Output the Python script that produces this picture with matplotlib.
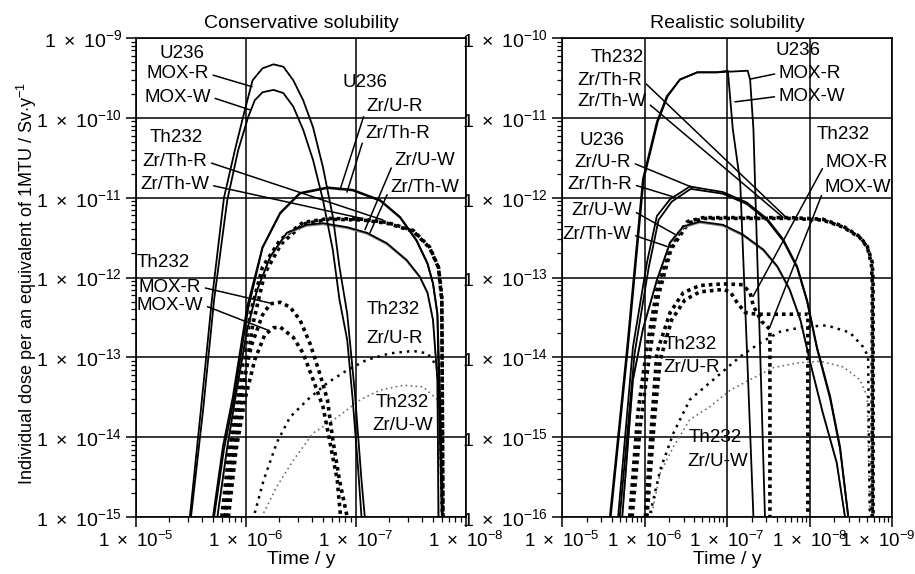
import numpy as np
import matplotlib
matplotlib.use("Agg")
import matplotlib.pyplot as plt
from matplotlib.ticker import LogLocator, FuncFormatter, NullFormatter, FixedLocator
from matplotlib.transforms import ScaledTranslation

plt.rcParams['font.family'] = ['Liberation Sans', 'DejaVu Sans']
plt.rcParams['mathtext.fontset'] = 'custom'
plt.rcParams['mathtext.rm'] = 'Liberation Sans'
plt.rcParams['mathtext.it'] = 'Liberation Sans:italic'
plt.rcParams['mathtext.bf'] = 'Liberation Sans:bold'
plt.rcParams['font.size'] = 13.5

# all values are log10(time / y) and log10(dose / Sv y-1)

# ---- conservative solubility ----
cons_u_mox_r_t = [5.49, 5.59, 5.69, 5.80, 5.90, 5.99, 6.06, 6.15, 6.25, 6.34, 6.43, 6.52, 6.61, 6.70, 6.79, 6.85, 6.92, 6.99, 7.05, 7.08]
cons_u_mox_r_d = [-15.0, -13.66, -12.28, -11.0, -10.40, -9.90, -9.53, -9.38, -9.33, -9.36, -9.53, -9.78, -10.12, -10.62, -11.24, -11.87, -12.45, -13.45, -14.54, -15.0]
cons_u_mox_w_t = [5.50, 5.61, 5.71, 5.83, 5.93, 6.02, 6.08, 6.15, 6.25, 6.34, 6.43, 6.52, 6.61, 6.70, 6.79, 6.85, 6.92, 6.97, 7.02, 7.05]
cons_u_mox_w_d = [-15.0, -13.66, -12.28, -11.03, -10.40, -9.99, -9.78, -9.68, -9.65, -9.69, -9.86, -10.15, -10.53, -11.03, -11.66, -12.28, -12.78, -13.53, -14.41, -15.0]

cons_u_zru_r_t = [5.70, 5.79, 5.88, 6.01, 6.15, 6.31, 6.49, 6.74, 6.97, 7.22, 7.40, 7.55, 7.65, 7.70, 7.74, 7.75, 7.78]
cons_u_zru_r_d = [-15.0, -14.12, -13.50, -12.37, -11.62, -11.19, -10.94, -10.87, -10.90, -11.03, -11.24, -11.53, -11.82, -12.07, -12.45, -13.28, -15.0]
cons_u_zrth_r_t = [5.71, 5.80, 5.89, 6.02, 6.15, 6.31, 6.49, 6.74, 6.97, 7.22, 7.40, 7.55, 7.65, 7.70, 7.74, 7.76, 7.79]
cons_u_zrth_r_d = [-15.0, -14.15, -13.52, -12.39, -11.63, -11.20, -10.95, -10.88, -10.91, -11.04, -11.25, -11.54, -11.83, -12.08, -12.46, -13.29, -15.0]

cons_u_zru_w_t = [5.74, 5.83, 5.92, 6.01, 6.10, 6.22, 6.37, 6.55, 6.70, 6.92, 7.10, 7.28, 7.46, 7.58, 7.65, 7.70, 7.74, 7.75]
cons_u_zru_w_d = [-15.0, -14.12, -13.37, -12.66, -12.16, -11.74, -11.44, -11.34, -11.32, -11.37, -11.44, -11.57, -11.78, -11.99, -12.19, -12.53, -13.28, -15.0]
cons_u_zrth_w_d = [-15.0, -14.13, -13.38, -12.67, -12.17, -11.755, -11.455, -11.355, -11.335, -11.385, -11.455, -11.585, -11.795, -12.0, -12.2, -12.54, -13.29, -15.0]

cons_th_zrth_r_t = [5.78, 5.85, 5.95, 6.04, 6.15, 6.31, 6.52, 6.76, 7.06, 7.28, 7.52, 7.67, 7.75, 7.78, 7.79]
cons_th_zrth_r_d = [-15.0, -14.12, -13.28, -12.45, -11.87, -11.53, -11.31, -11.26, -11.27, -11.31, -11.41, -11.62, -11.87, -12.24, -15.0]
cons_th_zrth_w_t = [5.81, 5.88, 5.97, 6.06, 6.17, 6.32, 6.52, 6.76, 7.06, 7.28, 7.52, 7.67, 7.75, 7.78, 7.79]
cons_th_zrth_w_d = [-15.0, -14.30, -13.45, -12.60, -11.95, -11.58, -11.33, -11.27, -11.28, -11.32, -11.42, -11.63, -11.88, -12.30, -15.0]

cons_th_mox_r_t = [5.81, 5.88, 5.96, 6.05, 6.15, 6.22, 6.31, 6.40, 6.49, 6.58, 6.67, 6.74, 6.79, 6.85, 6.92]
cons_th_mox_r_d = [-15.0, -14.04, -13.41, -12.85, -12.47, -12.33, -12.31, -12.37, -12.53, -12.82, -13.20, -13.53, -14.04, -14.54, -15.0]
cons_th_mox_w_t = [5.84, 5.91, 5.99, 6.08, 6.17, 6.25, 6.31, 6.43, 6.52, 6.61, 6.70, 6.76, 6.83, 6.86]
cons_th_mox_w_d = [-15.0, -14.16, -13.53, -13.03, -12.72, -12.63, -12.62, -12.75, -12.95, -13.28, -13.62, -14.04, -14.54, -15.0]

cons_th_zru_r_t = [6.08, 6.16, 6.28, 6.40, 6.56, 6.74, 6.92, 7.10, 7.31, 7.52, 7.65, 7.74, 7.76, 7.78]
cons_th_zru_r_d = [-14.95, -14.54, -14.07, -13.75, -13.53, -13.32, -13.16, -13.03, -12.95, -12.92, -12.95, -13.12, -13.50, -15.0]
cons_th_zru_w_t = [6.16, 6.28, 6.43, 6.61, 6.83, 7.04, 7.22, 7.43, 7.61, 7.74, 7.76, 7.78]
cons_th_zru_w_d = [-14.95, -14.62, -14.29, -13.95, -13.75, -13.53, -13.41, -13.35, -13.37, -13.53, -13.79, -14.95]

# ---- realistic solubility ----
real_u_mox_r_t = [5.58, 5.79, 5.98, 6.07, 6.15, 6.27, 6.43, 6.64, 6.88, 7.25, 7.28, 7.32, 7.34, 7.40, 7.46]
real_u_mox_r_d = [-16.0, -13.87, -11.77, -11.39, -11.05, -10.73, -10.52, -10.43, -10.43, -10.41, -10.52, -11.14, -11.83, -13.87, -16.0]
real_u_mox_w_t = [5.59, 5.80, 5.99, 6.08, 6.16, 6.28, 6.43, 6.64, 6.88, 7.01, 7.07, 7.16, 7.24, 7.32]
real_u_mox_w_d = [-16.0, -13.87, -11.77, -11.39, -11.05, -10.73, -10.52, -10.43, -10.43, -10.41, -11.14, -11.81, -13.87, -16.0]

real_u_zru_r_t = [5.68, 5.86, 6.03, 6.15, 6.31, 6.55, 6.95, 7.24, 7.49, 7.68, 7.85, 7.97, 8.09, 8.25, 8.37, 8.47]
real_u_zru_r_d = [-16.0, -13.87, -12.81, -12.23, -12.02, -11.86, -11.93, -12.06, -12.27, -12.52, -12.86, -13.28, -13.87, -14.49, -15.12, -16.0]
real_u_zrth_r_t = [5.70, 5.88, 6.05, 6.17, 6.33, 6.56, 6.95, 7.24, 7.49, 7.68, 7.85, 7.97, 8.09, 8.25, 8.37, 8.47]
real_u_zrth_r_d = [-16.0, -13.95, -12.88, -12.28, -12.05, -11.89, -11.95, -12.08, -12.29, -12.54, -12.88, -13.30, -13.89, -14.52, -15.15, -16.0]

real_u_zru_w_t = [5.73, 5.86, 5.98, 6.15, 6.31, 6.47, 6.67, 6.95, 7.19, 7.44, 7.61, 7.76, 7.89, 8.01, 8.16, 8.33, 8.43]
real_u_zru_w_d = [-16.0, -14.28, -13.65, -13.03, -12.56, -12.36, -12.30, -12.34, -12.46, -12.65, -12.86, -13.15, -13.53, -14.07, -14.69, -15.32, -16.0]
real_u_zrth_w_d = [-16.0, -14.29, -13.66, -13.04, -12.575, -12.375, -12.315, -12.355, -12.475, -12.665, -12.875, -13.165, -13.545, -14.08, -14.70, -15.33, -16.0]

real_th_zrth_r_t = [5.82, 5.92, 6.03, 6.15, 6.31, 6.52, 6.71, 7.76, 8.16, 8.41, 8.61, 8.70, 8.76, 8.77, 8.77]
real_th_zrth_r_d = [-16.0, -14.69, -13.87, -13.15, -12.61, -12.30, -12.25, -12.25, -12.27, -12.36, -12.49, -12.61, -12.81, -13.03, -16.0]
real_th_zrth_w_t = [5.85, 5.95, 6.06, 6.17, 6.32, 6.53, 6.71, 7.76, 8.16, 8.41, 8.61, 8.70, 8.75, 8.76, 8.76]
real_th_zrth_w_d = [-16.0, -14.85, -13.98, -13.22, -12.65, -12.32, -12.26, -12.26, -12.28, -12.37, -12.50, -12.62, -12.83, -13.06, -16.0]

real_th_mox_r_t = [6.01, 6.09, 6.15, 6.31, 6.47, 6.67, 6.95, 7.19, 7.28, 7.32, 7.42, 7.52, 7.52]
real_th_mox_r_d = [-16.0, -14.78, -13.94, -13.44, -13.19, -13.10, -13.08, -13.09, -13.19, -13.36, -13.55, -13.65, -16.0]
real_th_mox_w_t = [6.03, 6.12, 6.19, 6.33, 6.49, 6.67, 6.95, 7.04, 7.12, 7.22, 7.36, 7.98, 7.98]
real_th_mox_w_d = [-16.0, -14.78, -14.03, -13.53, -13.28, -13.18, -13.15, -13.18, -13.31, -13.44, -13.46, -13.46, -16.0]

real_th_zru_r_t = [6.07, 6.19, 6.35, 6.55, 6.88, 7.16, 7.40, 7.64, 7.92, 8.21, 8.49, 8.65, 8.71, 8.73]
real_th_zru_r_d = [-15.95, -15.41, -14.95, -14.53, -14.24, -13.99, -13.82, -13.68, -13.62, -13.60, -13.69, -13.87, -13.99, -16.0]
real_th_zru_w_t = [6.09, 6.19, 6.35, 6.55, 6.79, 7.04, 7.28, 7.56, 7.85, 8.13, 8.41, 8.61, 8.70, 8.73]
real_th_zru_w_d = [-15.95, -15.45, -15.12, -14.78, -14.62, -14.41, -14.28, -14.13, -14.07, -14.05, -14.12, -14.28, -14.49, -15.95]

# decades shown on each axis
cons_x_decades = [5, 6, 7, 8]
cons_y_decades = [-15, -14, -13, -12, -11, -10, -9]
real_x_decades = [5, 6, 7, 8, 9]
real_y_decades = [-16, -15, -14, -13, -12, -11, -10]

# labels: text, x, y (log10), leader target (log10) or None
cons_labels = [
    ("U236", 5.42, -9.19, None),
    ("MOX-R", 5.38, -9.45, (6.055, -9.61)),
    ("MOX-W", 5.38, -9.74, (6.036, -9.90)),
    ("U236", 7.08, -9.56, None),
    ("Zr/U-R", 7.355, -9.86, (6.855, -10.90)),
    ("Zr/Th-R", 7.38, -10.19, (6.918, -10.93)),
    ("Zr/U-W", 7.627, -10.53, (7.082, -11.40)),
    ("Zr/Th-W", 7.627, -10.87, (7.127, -11.44)),
    ("Th232", 5.37, -10.25, None),
    ("Zr/Th-R", 5.355, -10.55, (7.245, -11.28)),
    ("Zr/Th-W", 5.355, -10.84, (7.036, -11.255)),
    ("Th232", 5.245, -11.81, None),
    ("MOX-R", 5.31, -12.12, (6.218, -12.32)),
    ("MOX-W", 5.31, -12.345, (6.20, -12.66)),
    ("Th232", 7.336, -12.395, None),
    ("Zr/U-R", 7.355, -12.76, None),
    ("Th232", 7.418, -13.56, None),
    ("Zr/U-W", 7.427, -13.85, None),
]
real_labels = [
    ("Th232", 5.667, -10.24, None),
    ("Zr/Th-R", 5.582, -10.53, (7.703, -12.234)),
    ("Zr/Th-W", 5.606, -10.80, (7.679, -12.247)),
    ("U236", 7.861, -10.16, None),
    ("MOX-R", 8.006, -10.44, (7.279, -10.515)),
    ("MOX-W", 8.03, -10.73, (7.097, -10.80)),
    ("U236", 5.485, -11.29, None),
    ("Zr/U-R", 5.497, -11.556, (6.576, -11.87)),
    ("Zr/Th-R", 5.461, -11.833, (6.37, -11.996)),
    ("Zr/U-W", 5.485, -12.159, (6.37, -12.46)),
    ("Zr/Th-W", 5.424, -12.46, (6.273, -12.611)),
    ("Th232", 8.406, -11.205, None),
    ("MOX-R", 8.576, -11.556, (7.315, -13.238)),
    ("MOX-W", 8.588, -11.87, (7.521, -13.615)),
    ("Th232", 6.552, -13.84, None),
    ("Zr/U-R", 6.576, -14.13, None),
    ("Th232", 6.855, -15.0, None),
    ("Zr/U-W", 6.891, -15.31, None),
]

solid = dict(color='black', lw=1.3, ls='-')
grey = dict(color='#8c8c8c', lw=1.1, ls='-')
thick_dot = dict(color='black', lw=2.6, ls=(0, (1, 1.1)))
mid_dot = dict(color='black', lw=1.8, ls=(0, (1, 2)))
light_dot = dict(color='#6e6e6e', lw=1.2, ls=(0, (1, 2)))

cons_series = [
    (cons_th_zru_w_t, cons_th_zru_w_d, light_dot),
    (cons_th_zru_r_t, cons_th_zru_r_d, mid_dot),
    (cons_th_mox_r_t, cons_th_mox_r_d, thick_dot),
    (cons_th_mox_w_t, cons_th_mox_w_d, thick_dot),
    (cons_th_zrth_r_t, cons_th_zrth_r_d, thick_dot),
    (cons_th_zrth_w_t, cons_th_zrth_w_d, thick_dot),
    (cons_u_zru_w_t, cons_u_zrth_w_d, grey),
    (cons_u_zru_w_t, cons_u_zru_w_d, solid),
    (cons_u_zrth_r_t, cons_u_zrth_r_d, solid),
    (cons_u_zru_r_t, cons_u_zru_r_d, solid),
    (cons_u_mox_w_t, cons_u_mox_w_d, solid),
    (cons_u_mox_r_t, cons_u_mox_r_d, solid),
]
real_series = [
    (real_th_zru_w_t, real_th_zru_w_d, light_dot),
    (real_th_zru_r_t, real_th_zru_r_d, mid_dot),
    (real_th_mox_r_t, real_th_mox_r_d, thick_dot),
    (real_th_mox_w_t, real_th_mox_w_d, thick_dot),
    (real_th_zrth_r_t, real_th_zrth_r_d, thick_dot),
    (real_th_zrth_w_t, real_th_zrth_w_d, thick_dot),
    (real_u_zru_w_t, real_u_zrth_w_d, grey),
    (real_u_zru_w_t, real_u_zru_w_d, solid),
    (real_u_zrth_r_t, real_u_zrth_r_d, solid),
    (real_u_zru_r_t, real_u_zru_r_d, solid),
    (real_u_mox_w_t, real_u_mox_w_d, solid),
    (real_u_mox_r_t, real_u_mox_r_d, solid),
]


def y_fmt(v, pos):
    return r'$1\ \times\ 10^{%d}$' % round(np.log10(v))


def x_fmt(v, pos):
    # the original axis prints the time exponents with a minus sign
    return r'$1\ \times\ 10^{-%d}$' % round(np.log10(v))


def draw_panel(ax, series, labels, x_dec, y_dec, title):
    for t, d, style in series:
        ax.plot(np.power(10.0, t), np.power(10.0, d), **style)

    for txt, tx, ty, target in labels:
        if target is None:
            ax.text(10 ** tx, 10 ** ty, txt, ha='center', va='center')
        else:
            rp = (0, 0.5) if target[0] < tx else (1, 0.5)
            ax.annotate(txt, xy=(10 ** target[0], 10 ** target[1]),
                        xytext=(10 ** tx, 10 ** ty), ha='center', va='center',
                        arrowprops=dict(arrowstyle='-', color='black', lw=1.1,
                                        shrinkA=1, shrinkB=0, relpos=rp))

    ax.set_xscale('log')
    ax.set_yscale('log')
    xt = np.power(10.0, x_dec)
    yt = np.power(10.0, y_dec)
    ax.set_xlim(xt[0], xt[-1])
    ax.set_ylim(yt[0], yt[-1])
    ax.xaxis.set_major_locator(FixedLocator(xt))
    ax.yaxis.set_major_locator(FixedLocator(yt))
    ax.xaxis.set_minor_locator(LogLocator(base=10, subs=np.arange(2, 10), numticks=20))
    ax.yaxis.set_minor_locator(LogLocator(base=10, subs=np.arange(2, 10), numticks=20))
    ax.xaxis.set_major_formatter(FuncFormatter(x_fmt))
    ax.yaxis.set_major_formatter(FuncFormatter(y_fmt))
    ax.xaxis.set_minor_formatter(NullFormatter())
    ax.yaxis.set_minor_formatter(NullFormatter())
    ax.tick_params(which='major', direction='out', length=7, width=1.1, pad=3)
    ax.tick_params(axis='y', which='major', labelsize=14)
    ax.tick_params(axis='x', which='major', labelsize=13.5)
    ax.tick_params(which='minor', direction='out', length=3.5, width=0.9)
    ax.grid(True, which='major', color='black', lw=1.1)
    for s in ax.spines.values():
        s.set_linewidth(1.2)
    ax.set_title(title, fontsize=14, pad=7)
    ax.set_xlabel('Time / y', fontsize=14, labelpad=0)


fig = plt.figure(figsize=(9.15, 5.74), dpi=100)
ax1 = fig.add_axes([0.1486, 0.0993, 0.3607, 0.8345])
ax2 = fig.add_axes([0.6142, 0.0993, 0.3607, 0.8345])

draw_panel(ax1, cons_series, cons_labels, cons_x_decades, cons_y_decades, 'Conservative solubility')
draw_panel(ax2, real_series, real_labels, real_x_decades, real_y_decades, 'Realistic solubility')

fig.text(0.029, 0.507, r'Individual dose per an equivalent of 1MTU / Sv$\cdot$y$^{-1}$',
         rotation=90, ha='center', va='center', fontsize=13)

# the last time label of the right panel sits a little to the left so it fits
fig.canvas.draw()
for tick in ax2.xaxis.get_major_ticks():
    if np.isclose(tick.get_loc(), 1e9):
        lab = tick.label1
        lab.set_transform(lab.get_transform() + ScaledTranslation(-0.14, 0, fig.dpi_scale_trans))

fig.savefig('out.png', dpi=100)
